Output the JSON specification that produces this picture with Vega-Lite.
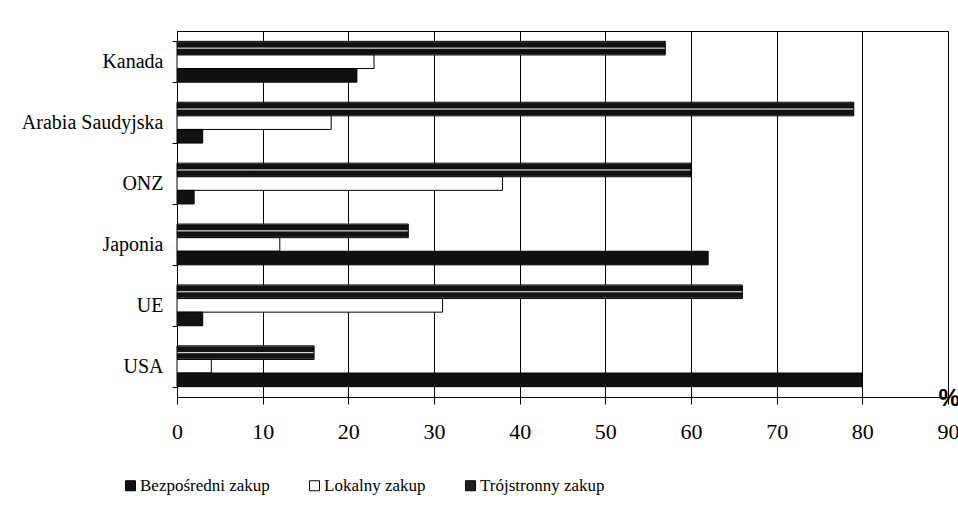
{
  "$schema": "https://vega.github.io/schema/vega-lite/v6.json",
  "autosize": {"type": "none"},
  "padding": {"left": 177, "top": 31, "right": 10, "bottom": 131},
  "width": 771,
  "height": 366,
  "background": "white",
  "config": {
    "view": {"stroke": "black", "strokeWidth": 1},
    "font": "Liberation Serif"
  },
  "data": {
    "values": [
      {"kraj": "Kanada", "seria": "Trójstronny zakup", "v": 57},
      {"kraj": "Kanada", "seria": "Lokalny zakup", "v": 23},
      {"kraj": "Kanada", "seria": "Bezpośredni zakup", "v": 21},
      {"kraj": "Arabia Saudyjska", "seria": "Trójstronny zakup", "v": 79},
      {"kraj": "Arabia Saudyjska", "seria": "Lokalny zakup", "v": 18},
      {"kraj": "Arabia Saudyjska", "seria": "Bezpośredni zakup", "v": 3},
      {"kraj": "ONZ", "seria": "Trójstronny zakup", "v": 60},
      {"kraj": "ONZ", "seria": "Lokalny zakup", "v": 38},
      {"kraj": "ONZ", "seria": "Bezpośredni zakup", "v": 2},
      {"kraj": "Japonia", "seria": "Trójstronny zakup", "v": 27},
      {"kraj": "Japonia", "seria": "Lokalny zakup", "v": 12},
      {"kraj": "Japonia", "seria": "Bezpośredni zakup", "v": 62},
      {"kraj": "UE", "seria": "Trójstronny zakup", "v": 66},
      {"kraj": "UE", "seria": "Lokalny zakup", "v": 31},
      {"kraj": "UE", "seria": "Bezpośredni zakup", "v": 3},
      {"kraj": "USA", "seria": "Trójstronny zakup", "v": 16},
      {"kraj": "USA", "seria": "Lokalny zakup", "v": 4},
      {"kraj": "USA", "seria": "Bezpośredni zakup", "v": 80}
    ]
  },
  "mark": {"type": "bar", "stroke": "black", "strokeWidth": 1},
  "encoding": {
    "y": {
      "field": "kraj",
      "type": "nominal",
      "sort": ["Kanada", "Arabia Saudyjska", "ONZ", "Japonia", "UE", "USA"],
      "scale": {"paddingInner": 0.33, "paddingOuter": 0.17},
      "axis": {
        "title": null,
        "domainColor": "black",
        "tickColor": "black",
        "tickSize": 5,
        "tickBand": "extent",
        "labelFont": "Liberation Serif",
        "labelFontSize": 20,
        "labelColor": "black",
        "labelPadding": 9,
        "labelLimit": 300
      }
    },
    "yOffset": {
      "field": "seria",
      "type": "nominal",
      "sort": ["Trójstronny zakup", "Lokalny zakup", "Bezpośredni zakup"],
      "scale": {"paddingInner": 0, "paddingOuter": 0}
    },
    "x": {
      "field": "v",
      "type": "quantitative",
      "scale": {"domain": [0, 90], "nice": false},
      "axis": {
        "values": [0, 10, 20, 30, 40, 50, 60, 70, 80, 90],
        "grid": true,
        "gridColor": "black",
        "gridOpacity": 1,
        "domainColor": "black",
        "tickColor": "black",
        "tickSize": 7,
        "labelFont": "Liberation Serif",
        "labelFontSize": 22,
        "labelColor": "black",
        "labelPadding": 17,
        "labelFlush": false,
        "title": "%",
        "titleFont": "Liberation Sans",
        "titleFontSize": 24,
        "titleFontWeight": "bold",
        "titleColor": "black",
        "titleAnchor": "start",
        "titleAlign": "left",
        "titleBaseline": "middle",
        "titleX": 761,
        "titleY": 1
      }
    },
    "fill": {
      "condition": {
        "test": "datum.seria === 'Trójstronny zakup'",
        "value": {"gradient": "linear", "x1": 0, "y1": 0, "x2": 0, "y2": 1,
          "stops": [
            {"offset": 0, "color": "#aaaaaa"},
            {"offset": 0.1, "color": "#111111"},
            {"offset": 0.42, "color": "#111111"},
            {"offset": 0.5, "color": "#eeeeee"},
            {"offset": 0.58, "color": "#111111"},
            {"offset": 0.9, "color": "#111111"},
            {"offset": 1, "color": "#aaaaaa"}
          ]}
      },
      "field": "seria",
      "type": "nominal",
      "scale": {
        "domain": ["Bezpośredni zakup", "Lokalny zakup", "Trójstronny zakup"],
        "range": ["#111111", "#ffffff", "#222222"]
      },
      "legend": {
        "title": null,
        "orient": "none",
        "direction": "horizontal",
        "legendX": -55,
        "legendY": 446,
        "symbolType": "square",
        "symbolSize": 100,
        "symbolStrokeColor": "black",
        "symbolStrokeWidth": 1,
        "labelFont": "Liberation Serif",
        "labelFontSize": 17,
        "labelColor": "black",
        "labelOffset": 1,
        "columnPadding": 36,
        "labelLimit": 300
      }
    }
  }
}
